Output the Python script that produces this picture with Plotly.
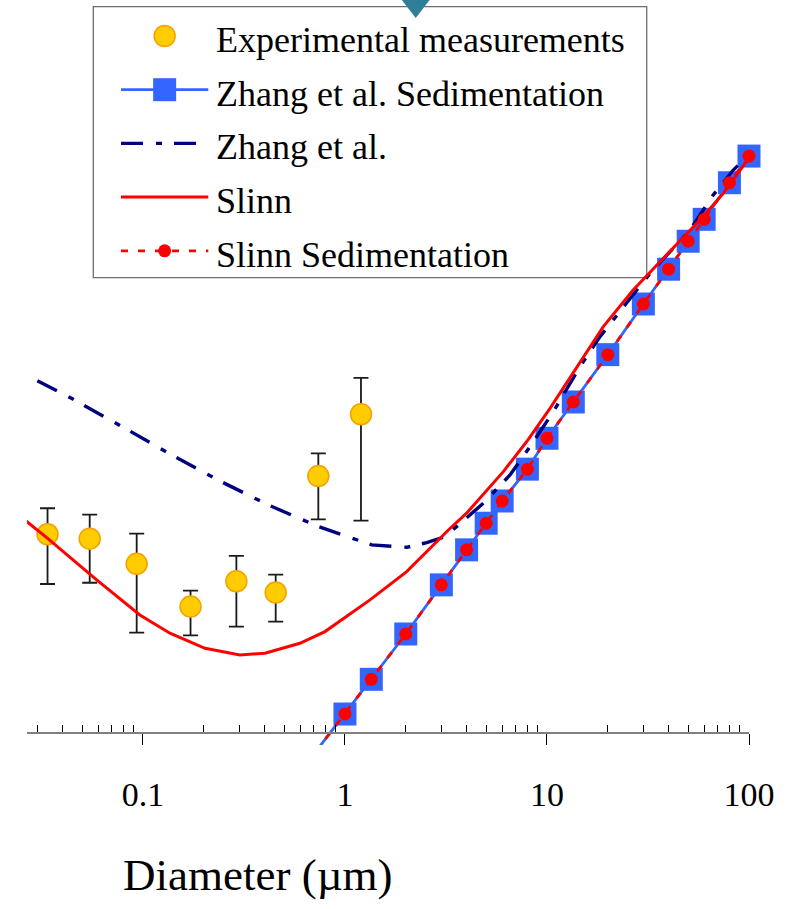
import plotly.graph_objects as go

# ---------------- data (diameter in µm, deposition velocity in cm/s) ----------------
exp_d = [0.0337, 0.0545, 0.0931, 0.172, 0.290, 0.454, 0.738, 1.20]
exp_v = [0.0642, 0.0598, 0.0396, 0.0197, 0.0298, 0.0248, 0.166, 0.456]
exp_hi = [0.0982, 0.0885, 0.0649, 0.0256, 0.0451, 0.0332, 0.241, 0.825]
exp_lo = [0.0285, 0.0291, 0.0129, 0.0123, 0.0142, 0.0154, 0.0820, 0.0802]

sed_d = [0.5, 1, 1.35, 2, 3, 4, 5, 6, 8, 10, 13.5, 20, 30, 40, 50, 60, 80, 100]
zhang_sed_v = [0.00094, 0.00341, 0.00601, 0.0126, 0.0281, 0.0498, 0.0769, 0.1106, 0.186,
               0.308, 0.557, 1.207, 2.76, 4.87, 7.69, 11.0, 20.0, 30.9]
slinn_sed_v = [0.00094, 0.00341, 0.00601, 0.0126, 0.0281, 0.0498, 0.0769, 0.1106, 0.186,
               0.308, 0.557, 1.207, 2.76, 4.87, 7.69, 11.0, 20.0, 30.9]

slinn_d = [0.025, 0.0335, 0.059, 0.0966, 0.136, 0.203, 0.302, 0.402, 0.598, 0.796, 1.33, 2.02,
           3.25, 4.0, 6.08, 7.94, 10.35, 14.0, 19.0, 26.7, 39.1, 57.2, 74.6, 90.2, 100]
slinn_v = [0.085, 0.0605, 0.0305, 0.0172, 0.01276, 0.00998, 0.00895, 0.0092, 0.01083, 0.0131,
           0.022, 0.0349, 0.0689, 0.0906, 0.1786, 0.292, 0.502, 0.966, 1.906, 3.47, 6.15, 10.9,
           16.8, 24.6, 30.0]

zhang_d = [0.030, 0.0452, 0.0798, 0.1387, 0.240, 0.417, 0.738, 1.356, 2.02, 2.54, 3.13, 3.57,
           4.84, 6.56, 8.24, 10.75, 14.56, 18.3, 23.9, 32.4, 51.1, 66.6, 83.6, 100]
zhang_v = [0.789, 0.582, 0.369, 0.2345, 0.1534, 0.1037, 0.0728, 0.054, 0.0519, 0.056, 0.0618,
           0.0728, 0.1066, 0.169, 0.2685, 0.475, 0.992, 1.62, 2.64, 4.56, 9.25, 16.4, 24.6, 31.5]

extra_d = [2.24]
extra_v = [370.0]

series_names = ["Experimental measurements", "Zhang et al. Sedimentation", "Zhang et al.",
                "Slinn", "Slinn Sedimentation"]
tick_vals = [0.1, 1, 10, 100]
tick_text = ["0.1", "1", "10", "100"]
x_title = "Diameter (µm)"

# ---------------- styles ----------------
YELLOW = "#FFCC00"
ORANGE = "#F5A100"
BLUE = "#3366FF"
NAVY = "#000080"
RED = "#FF0000"
TEAL = "#2F7F98"
SERIF = "Liberation Serif, Times New Roman, serif"
ZH_DASH = "22px,13px,6px,12px"
SL_DASH = "7px,10px"

W, H = 798, 909
ML, MR, MT, MB = 27, 49, 0, 164
PW, PH = W - ML - MR, H - MT - MB

fig = go.Figure()

fig.add_trace(go.Scatter(
    x=exp_d, y=exp_v, mode="markers", name=series_names[0], showlegend=False,
    marker=dict(symbol="circle", size=21, color=YELLOW, line=dict(color=ORANGE, width=1.5)),
    error_y=dict(type="data", symmetric=False,
                 array=[h - v for h, v in zip(exp_hi, exp_v)],
                 arrayminus=[v - l for v, l in zip(exp_v, exp_lo)],
                 color="#1a1a1a", thickness=1.8, width=7.5),
))
# Zhang sedimentation: line over full data (first point lies below the axis), markers unclipped
fig.add_trace(go.Scatter(
    x=sed_d, y=zhang_sed_v, mode="lines", name=series_names[1], showlegend=False,
    line=dict(color=BLUE, width=2.8),
))
fig.add_trace(go.Scatter(
    x=sed_d[1:], y=zhang_sed_v[1:], mode="markers", name=series_names[1], showlegend=False,
    cliponaxis=False, marker=dict(symbol="square", size=23, color=BLUE),
))
fig.add_trace(go.Scatter(
    x=zhang_d, y=zhang_v, mode="lines", name=series_names[2], showlegend=False,
    line=dict(color=NAVY, width=3.4, dash=ZH_DASH),
))
fig.add_trace(go.Scatter(
    x=slinn_d, y=slinn_v, mode="lines", name=series_names[3], showlegend=False,
    line=dict(color=RED, width=3),
))
fig.add_trace(go.Scatter(
    x=sed_d, y=slinn_sed_v, mode="lines", name=series_names[4], showlegend=False,
    line=dict(color=RED, width=2.8, dash=SL_DASH),
))
fig.add_trace(go.Scatter(
    x=sed_d[1:], y=slinn_sed_v[1:], mode="markers", name=series_names[4], showlegend=False,
    cliponaxis=False, marker=dict(symbol="circle", size=13, color=RED),
))
fig.add_trace(go.Scatter(
    x=extra_d, y=extra_v, mode="markers", showlegend=False, hoverinfo="skip",
    marker=dict(symbol="triangle-down", size=28, color=TEAL),
))

# ---------------- custom legend on its own small axes ----------------
box_l, box_t, box_r, box_b = 93.3, 6.7, 646.7, 277.7   # pixel box of the legend
bw, bh = box_r - box_l, box_b - box_t
dom_x = [(box_l - ML) / PW, (box_r - ML) / PW]
dom_y = [(PH - (box_b - MT)) / PH, (PH - (box_t - MT)) / PH]
row0, row_gap = 29.3, 53.7
sym_x0, sym_x1 = 27.7, 115.0
sym_c = (sym_x0 + sym_x1) / 2
text_x = 121.0

rows = [row0 + i * row_gap for i in range(5)]

def leg(x, y, **kw):
    fig.add_trace(go.Scatter(x=x, y=y, xaxis="x2", yaxis="y2", showlegend=False,
                             hoverinfo="skip", cliponaxis=False, **kw))

leg([sym_c], [rows[0]], mode="markers",
    marker=dict(symbol="circle", size=21, color=YELLOW, line=dict(color=ORANGE, width=1.5)))
leg([sym_x0, sym_x1], [rows[1]] * 2, mode="lines", line=dict(color=BLUE, width=2.8))
leg([sym_c], [rows[1]], mode="markers", marker=dict(symbol="square", size=23, color=BLUE))
leg([sym_x0, sym_x1], [rows[2]] * 2, mode="lines", line=dict(color=NAVY, width=3.4, dash=ZH_DASH))
leg([sym_x0, sym_x1], [rows[3]] * 2, mode="lines", line=dict(color=RED, width=3))
leg([sym_x0, sym_x1], [rows[4]] * 2, mode="lines", line=dict(color=RED, width=2.8, dash=SL_DASH))
leg([sym_c], [rows[4]], mode="markers", marker=dict(symbol="circle", size=13, color=RED))

annotations = []
for name, ry in zip(series_names, rows):
    annotations.append(dict(x=text_x, y=ry + 4, xref="x2", yref="y2", text=name,
                            showarrow=False, xanchor="left", yanchor="middle",
                            font=dict(family=SERIF, size=36, color="black")))
annotations.append(dict(x=(257.5 - ML) / PW, y=(PH - (875 - MT)) / PH, xref="paper", yref="paper",
                        text=x_title, showarrow=False, xanchor="center", yanchor="middle",
                        font=dict(family=SERIF, size=45, color="black")))

axis_pos = (PH - (733 - MT)) / PH
xr = [-1.574, 2.0]
minor_vals = [m * 10 ** e for e in range(-2, 2) for m in range(2, 10)]

fig.update_layout(
    width=W, height=H,
    margin=dict(l=ML, r=MR, t=MT, b=MB),
    paper_bgcolor="white", plot_bgcolor="rgba(0,0,0,0)",
    showlegend=False,
    xaxis=dict(type="log", range=xr, anchor="free", position=axis_pos,
               showgrid=False, zeroline=False,
               showline=True, linecolor="#808080", linewidth=2,
               tickmode="array", tickvals=tick_vals, ticktext=tick_text,
               ticks="outside", ticklen=11, tickwidth=1.3, tickcolor="black",
               tickfont=dict(family=SERIF, size=34, color="black"),
               ticklabelstandoff=20,
               minor=dict(tickmode="array", tickvals=minor_vals, ticks="inside",
                          ticklen=7, tickwidth=1, tickcolor="black", showgrid=False)),
    xaxis3=dict(type="log", range=xr, overlaying="x", anchor="free", position=axis_pos,
                showgrid=False, zeroline=False, showline=False,
                tickmode="array", tickvals=tick_vals, ticks="inside", ticklen=10,
                tickwidth=1.3, tickcolor="black", showticklabels=False),
    yaxis=dict(type="log", range=[-2.687, 2.597], visible=False, showgrid=False),
    xaxis2=dict(domain=dom_x, range=[0, bw], visible=False, anchor="y2"),
    yaxis2=dict(domain=dom_y, range=[bh, 0], visible=False, anchor="x2"),
    shapes=[dict(type="rect", xref="paper", yref="paper",
                 x0=dom_x[0], x1=dom_x[1], y0=dom_y[0], y1=dom_y[1],
                 line=dict(color="#6e6e6e", width=1.3), fillcolor="rgba(0,0,0,0)",
                 layer="below")],
    annotations=annotations,
)

fig.write_html("out.html")
